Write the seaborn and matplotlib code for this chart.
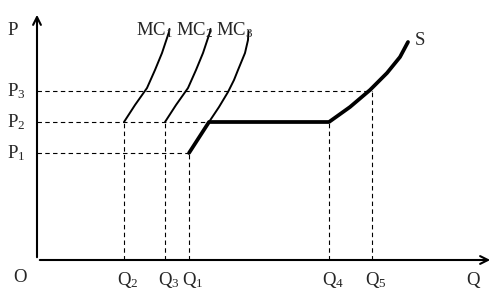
import matplotlib
matplotlib.use("Agg")
import matplotlib.pyplot as plt
import seaborn as sns

# Key levels (data units)
q_labels = ["Q$_2$", "Q$_3$", "Q$_1$", "Q$_4$", "Q$_5$"]
q_vals = [8.7, 12.8, 15.2, 29.2, 33.5]
p_labels = ["P$_1$", "P$_2$", "P$_3$"]
p_vals = [10.7, 13.8, 16.9]

# Curves
mc1_x = [8.7, 9.8, 11.0, 11.8, 12.5, 13.0, 13.2, 13.25]
mc1_y = [13.8, 15.5, 17.2, 19.0, 20.7, 22.2, 22.8, 23.1]
mc2_x = [12.8, 13.9, 15.1, 15.9, 16.6, 17.1, 17.3, 17.35]
mc2_y = [13.8, 15.5, 17.2, 19.0, 20.7, 22.2, 22.8, 23.1]
mc3_x = [17.2, 18.2, 19.1, 19.7, 20.1, 20.8, 21.1, 21.15]
mc3_y = [13.8, 15.3, 16.8, 18.0, 19.0, 20.7, 22.0, 22.9]
s_x = [15.2, 17.2, 29.2, 31.3, 33.3, 35.0, 36.3, 37.1]
s_y = [10.7, 13.8, 13.8, 15.3, 17.0, 18.7, 20.3, 21.8]

sns.set_theme(style="white")
plt.rcParams["font.family"] = ["Liberation Serif", "DejaVu Serif"]
plt.rcParams["mathtext.default"] = "regular"

fig = plt.figure(figsize=(5.0, 3.01), dpi=100)
ax = fig.add_axes([0, 0, 1, 1])
ax.set_xlim(-3.7, 46.3)
ax.set_ylim(-4.1, 26.0)
ax.axis("off")

# axes with arrows
ax.annotate("", xy=(45.6, 0), xytext=(0, 0),
            arrowprops=dict(arrowstyle="->", lw=1.5, color="black", mutation_scale=14))
ax.annotate("", xy=(0, 24.8), xytext=(0, 0),
            arrowprops=dict(arrowstyle="->", lw=1.5, color="black", mutation_scale=14))

dash = dict(color="black", lw=0.8, linestyle=(0, (4, 3)))
P1, P2, P3 = p_vals
Q2, Q3, Q1, Q4, Q5 = q_vals
ax.plot([0, Q1], [P1, P1], **dash)
ax.plot([0, mc3_x[0]], [P2, P2], **dash)
ax.plot([0, Q5], [P3, P3], **dash)
ax.plot([Q2, Q2], [0, P2], **dash)
ax.plot([Q3, Q3], [0, P2], **dash)
ax.plot([Q1, Q1], [0, P1], **dash)
ax.plot([Q4, Q4], [0, P2], **dash)
ax.plot([Q5, Q5], [0, P3], **dash)

for xs, ys in [(mc1_x, mc1_y), (mc2_x, mc2_y), (mc3_x, mc3_y)]:
    sns.lineplot(x=xs, y=ys, sort=False, estimator=None, color="black", lw=1.4,
                 ax=ax, solid_joinstyle="round", solid_capstyle="round")
sns.lineplot(x=s_x, y=s_y, sort=False, estimator=None, color="black", lw=2.7,
             ax=ax, solid_joinstyle="round")

fs = 13.5
for lab, q in zip(q_labels, q_vals):
    ax.text(q + 0.4, -2.0, lab, ha="center", va="center", fontsize=fs)
ax.text(43.6, -2.0, "Q", ha="center", va="center", fontsize=fs)
ax.text(-1.7, -1.8, "O", ha="center", va="center", fontsize=fs)
for lab, p in zip(p_labels, p_vals):
    ax.text(-2.1, p, lab, ha="center", va="center", fontsize=fs)
ax.text(-2.4, 23.0, "P", ha="center", va="center", fontsize=fs)

ax.text(9.9, 23.0, "MC$_1$", ha="left", va="center", fontsize=fs)
ax.text(13.9, 23.0, "MC$_2$", ha="left", va="center", fontsize=fs)
ax.text(17.9, 23.0, "MC$_3$", ha="left", va="center", fontsize=fs)
ax.text(37.8, 22.0, "S", ha="left", va="center", fontsize=fs)

fig.savefig("out.png", dpi=100)
